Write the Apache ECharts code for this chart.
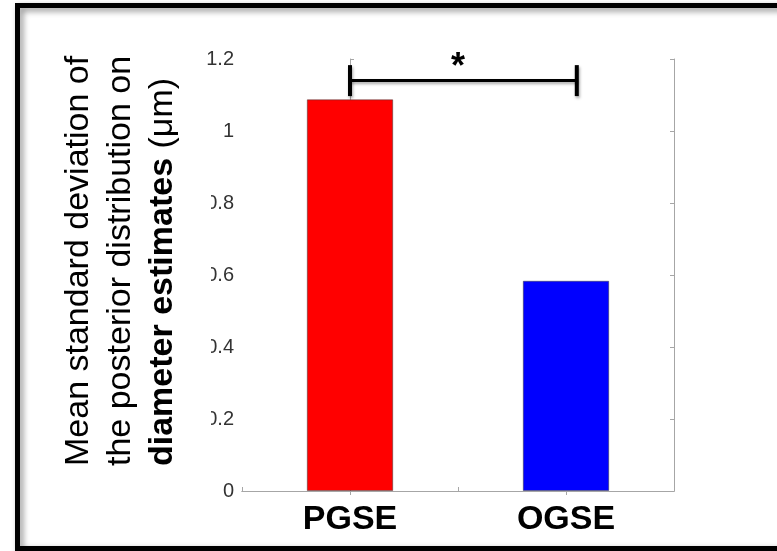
<!DOCTYPE html>
<html>
<head>
<meta charset="utf-8">
<script src="https://cdn.jsdelivr.net/npm/echarts@6/dist/echarts.min.js"></script>
<style>
  html, body { margin: 0; padding: 0; background: #fff; }
  #chart { width: 777px; height: 551px; }
</style>
</head>
<body>
<div id="chart"></div>
<script>
// Sequences and their mean posterior standard deviation of diameter estimates (µm)
const categories = ['PGSE', 'OGSE'];
const meanStd = [1.088, 0.584];
const barColors = ['#ff0000', '#0000ff'];

// Significance bracket between the two sequences
const bracketFrom = 0;      // x position (category index units)
const bracketTo = 1.05;
const bracketY = 1.14;
const bracketCap = 0.043;   // half height of the end caps
const sigX = 0.5;
const sigY = 1.197;
const sigText = '*';

// Y axis range
const yMin = 0, yMax = 1.2, yStep = 0.2;

const FONT = '"Liberation Sans", Arial, Helvetica, sans-serif';
const AXIS_GRAY = '#a6a6a6';

const chart = echarts.init(document.getElementById('chart'), null, { renderer: 'canvas' });

const titleLines = [
  'Mean standard deviation of',
  'the posterior distribution on',
  '{b|diameter estimates} (μm)'
];

const option = {
  backgroundColor: '#ffffff',
  animation: false,
  grid: { left: 242, top: 59, right: 103, bottom: 60, containLabel: false },
  xAxis: [
    {
      type: 'category',
      data: categories,
      position: 'bottom',
      axisLine: { show: true, lineStyle: { color: AXIS_GRAY, width: 1 } },
      axisTick: { show: true, inside: true, length: 4, lineStyle: { color: AXIS_GRAY } },
      axisLabel: {
        color: '#000', fontFamily: FONT, fontWeight: 'bold', fontSize: 34, margin: 12
      },
      splitLine: { show: false }
    },
    {
      type: 'category',
      data: categories,
      position: 'top',
      axisLine: { show: true, lineStyle: { color: AXIS_GRAY, width: 1 } },
      axisTick: { show: true, inside: true, alignWithLabel: true, length: 4, lineStyle: { color: AXIS_GRAY } },
      axisLabel: { show: false },
      splitLine: { show: false }
    },
    {
      type: 'value', min: -0.5, max: 1.5, show: false
    }
  ],
  yAxis: [
    {
      type: 'value',
      min: yMin, max: yMax, interval: yStep,
      position: 'left',
      axisLine: { show: true, lineStyle: { color: AXIS_GRAY, width: 1 } },
      axisTick: { show: true, inside: true, length: 4, lineStyle: { color: AXIS_GRAY } },
      axisLabel: { color: '#333', fontFamily: FONT, fontSize: 20, margin: 8 },
      splitLine: { show: false }
    },
    {
      type: 'value',
      min: yMin, max: yMax, interval: yStep,
      position: 'right',
      axisLine: { show: true, lineStyle: { color: AXIS_GRAY, width: 1 } },
      axisTick: { show: true, inside: true, length: 4, lineStyle: { color: AXIS_GRAY } },
      axisLabel: { show: false },
      splitLine: { show: false }
    }
  ],
  series: [
    {
      type: 'bar',
      xAxisIndex: 0,
      yAxisIndex: 0,
      barWidth: '40%',
      data: meanStd.map((v, i) => ({
        value: v,
        itemStyle: { color: barColors[i], borderColor: 'rgba(60,60,60,0.5)', borderWidth: 1 }
      })),
      z: 2
    },
    {
      // significance bracket
      type: 'custom',
      xAxisIndex: 2,
      yAxisIndex: 0,
      z: 5,
      data: [[bracketFrom, bracketTo, bracketY]],
      renderItem: function (params, api) {
        const p0 = api.coord([api.value(0), api.value(2)]);
        const p1 = api.coord([api.value(1), api.value(2)]);
        const capTop = api.coord([api.value(0), api.value(2) + bracketCap])[1];
        const capBot = api.coord([api.value(0), api.value(2) - bracketCap])[1];
        const shadow = { shadowBlur: 3, shadowColor: 'rgba(0,0,0,0.35)', shadowOffsetY: 2, shadowOffsetX: 1 };
        return {
          type: 'group',
          children: [
            { type: 'line', shape: { x1: p0[0], y1: p0[1], x2: p1[0], y2: p1[1] },
              style: Object.assign({ stroke: '#000', lineWidth: 3 }, shadow) },
            { type: 'line', shape: { x1: p0[0], y1: capTop, x2: p0[0], y2: capBot },
              style: Object.assign({ stroke: '#000', lineWidth: 4 }, shadow) },
            { type: 'line', shape: { x1: p1[0], y1: capTop, x2: p1[0], y2: capBot },
              style: Object.assign({ stroke: '#000', lineWidth: 4 }, shadow) }
          ]
        };
      }
    },
    {
      // significance marker
      type: 'custom',
      xAxisIndex: 2,
      yAxisIndex: 0,
      z: 6,
      data: [[sigX, sigY]],
      renderItem: function (params, api) {
        const p = api.coord([api.value(0), api.value(1)]);
        return {
          type: 'text',
          x: p[0], y: p[1] + 8,
          style: {
            text: sigText, fill: '#000', font: 'bold 36px ' + FONT,
            align: 'center', verticalAlign: 'middle'
          }
        };
      }
    }
  ],
  graphic: [
    // panel that trims the tick labels beside the axis title
    { type: 'rect', z: 100, shape: { x: 150, y: 77, width: 61, height: 390 }, style: { fill: '#fff' } },
    {
      type: 'text', z: 101, rotation: Math.PI / 2, x: 57.5, y: 466,
      style: { text: titleLines[0], font: '34px ' + FONT, fill: '#000', align: 'left', verticalAlign: 'top', lineHeight: 42 }
    },
    {
      type: 'text', z: 101, rotation: Math.PI / 2, x: 99.5, y: 466,
      style: { text: titleLines[1], font: '34px ' + FONT, fill: '#000', align: 'left', verticalAlign: 'top', lineHeight: 42 }
    },
    {
      type: 'text', z: 101, rotation: Math.PI / 2, x: 141.5, y: 466,
      style: {
        text: titleLines[2], font: '34px ' + FONT, fill: '#000', align: 'left', verticalAlign: 'top', lineHeight: 42,
        rich: { b: { fontWeight: 'bold', fontSize: 34, fontFamily: FONT, lineHeight: 42 } }
      }
    },
    // outer frame
    {
      type: 'rect', z: 110,
      shape: { x: 17.5, y: 5.5, width: 820, height: 543 },
      style: { fill: null, stroke: '#000', lineWidth: 5, shadowBlur: 6, shadowColor: 'rgba(0,0,0,0.45)', shadowOffsetX: 3, shadowOffsetY: 3 }
    }
  ]
};

chart.setOption(option);
</script>
</body>
</html>
